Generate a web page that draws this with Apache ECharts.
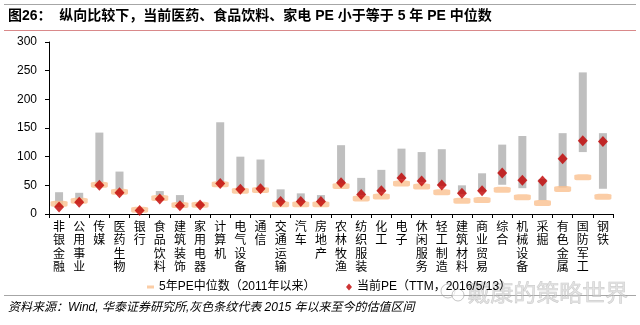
<!DOCTYPE html>
<html>
<head>
<meta charset="utf-8">
<script src="https://cdn.jsdelivr.net/npm/echarts@6/dist/echarts.min.js"></script>
<style>
html,body{margin:0;padding:0;background:#fff;}
#chart{width:640px;height:325px;}
</style>
</head>
<body>
<div id="chart"></div>
<script>
const categories = ['非银金融','公用事业','传媒','医药生物','银行','食品饮料','建筑装饰','家用电器','计算机','电气设备','通信','交通运输','汽车','房地产','农林牧渔','纺织服装','化工','电子','休闲服务','轻工制造','建筑材料','商业贸易','综合','机械设备','采掘','有色金属','国防军工','钢铁'];
const rangeHigh = [38,37,142,74,8,40,33,20,160,100,95,43,36,33,120,63,77,114,108,113,50,71,121,136,61,141,247,141];
const rangeLow  = [12,20,48,36,6,25,14,15,52,42,43,21,21,21,53,33,39,61,56,49,35,39,51,45,24,46,108,44];
const medianPE  = [18,23,51,39,7.5,28,15.7,16.3,52,40.6,41.8,16.8,16.8,16.8,49,27,30.7,53.4,48,38,23,24.4,42.4,29,19,43.6,64,30];
const currentPE = [12.2,20.3,50,37,6.3,26,14.5,15.7,53,43,44,22,22,22,54.6,34,40.6,62.8,57.5,50.5,36,40.6,71.4,59,57.5,96.5,127.8,126.6];
const yTicks = [0,50,100,150,200,250,300];

const CJK = '"Liberation Sans","Noto Sans CJK SC",sans-serif';
const chart = echarts.init(document.getElementById('chart'), null, {renderer:'canvas'});
const rangeSpan = rangeHigh.map((h,i)=>h - rangeLow[i]);

chart.setOption({
  animation:false,
  textStyle:{fontFamily:CJK},
  grid:{left:49,right:27,top:42,bottom:111},
  legend:[
    {data:[{name:'5年PE中位数（2011年以来）',icon:'rect'}],left:142,top:276,itemWidth:7,itemHeight:3,selectedMode:false,
     textStyle:{fontSize:12,color:'#000',fontFamily:CJK}},
    {data:[{name:'当前PE（TTM，2016/5/13）',icon:'diamond'}],left:341,top:276,itemWidth:6,itemHeight:7,selectedMode:false,
     textStyle:{fontSize:12,color:'#000',fontFamily:CJK}}
  ],
  xAxis:{
    type:'category',data:categories,boundaryGap:true,
    axisLine:{lineStyle:{color:'#000',width:1}},
    axisTick:{show:true,length:4,lineStyle:{color:'#000'}},
    axisLabel:{interval:0,margin:7,fontSize:12,lineHeight:13.3,color:'#000',verticalAlign:'top',
      formatter:v=>v.split('').join('\n')}
  },
  yAxis:{
    type:'value',min:yTicks[0],max:yTicks[yTicks.length-1],interval:50,
    axisLine:{show:true,lineStyle:{color:'#000',width:1}},
    axisTick:{show:true,length:4,lineStyle:{color:'#000'}},
    splitLine:{show:false},
    axisLabel:{fontSize:12,color:'#000',margin:12}
  },
  series:[
    {name:'base',type:'bar',stack:'r',data:rangeLow,barWidth:8,itemStyle:{color:'transparent'},silent:true},
    {name:'range',type:'bar',stack:'r',data:rangeSpan,barWidth:8,itemStyle:{color:'#BFBFBF'}},
    {name:'5年PE中位数（2011年以来）',type:'scatter',data:medianPE,symbol:'roundRect',symbolSize:[17,6],
      itemStyle:{color:'#FAC090'},z:3},
    {name:'当前PE（TTM，2016/5/13）',type:'scatter',data:currentPE,symbol:'diamond',symbolSize:[10,11],
      itemStyle:{color:'#C00000'},z:4}
  ],
  graphic:[
    {type:'line',shape:{x1:4,y1:4.5,x2:636,y2:4.5},style:{stroke:'#A6A6A6',lineWidth:1}},
    {type:'text',left:8,top:9,style:{text:'图26：  纵向比较下，当前医药、食品饮料、家电 PE 小于等于 5 年 PE 中位数',
      font:'bold 14px '+CJK,fill:'#000'}},
    {type:'line',shape:{x1:4,y1:30.5,x2:636,y2:30.5},style:{stroke:'#D9898A',lineWidth:1}},
    {type:'line',shape:{x1:4,y1:295.5,x2:636,y2:295.5},style:{stroke:'#A6A6A6',lineWidth:1}},
    {type:'text',left:8,top:302,style:{text:'资料来源：Wind, 华泰证券研究所,灰色条纹代表 2015 年以来至今的估值区间',
      font:'italic 12px '+CJK,fill:'#000'}},
    {type:'circle',shape:{cx:448,cy:291,r:7},style:{fill:'none',stroke:'rgba(160,160,160,0.6)',lineWidth:1}},
    {type:'circle',shape:{cx:458,cy:295,r:6},style:{fill:'rgba(255,255,255,0.6)',stroke:'rgba(160,160,160,0.6)',lineWidth:1}},
    {type:'text',left:467,top:280,style:{text:'戴康的策略世界',font:'23px "Noto Sans CJK SC",sans-serif',
      fill:'rgba(210,210,210,0.6)',stroke:'rgba(150,150,150,0.5)',lineWidth:0.6}}
  ]
});
</script>
</body>
</html>
